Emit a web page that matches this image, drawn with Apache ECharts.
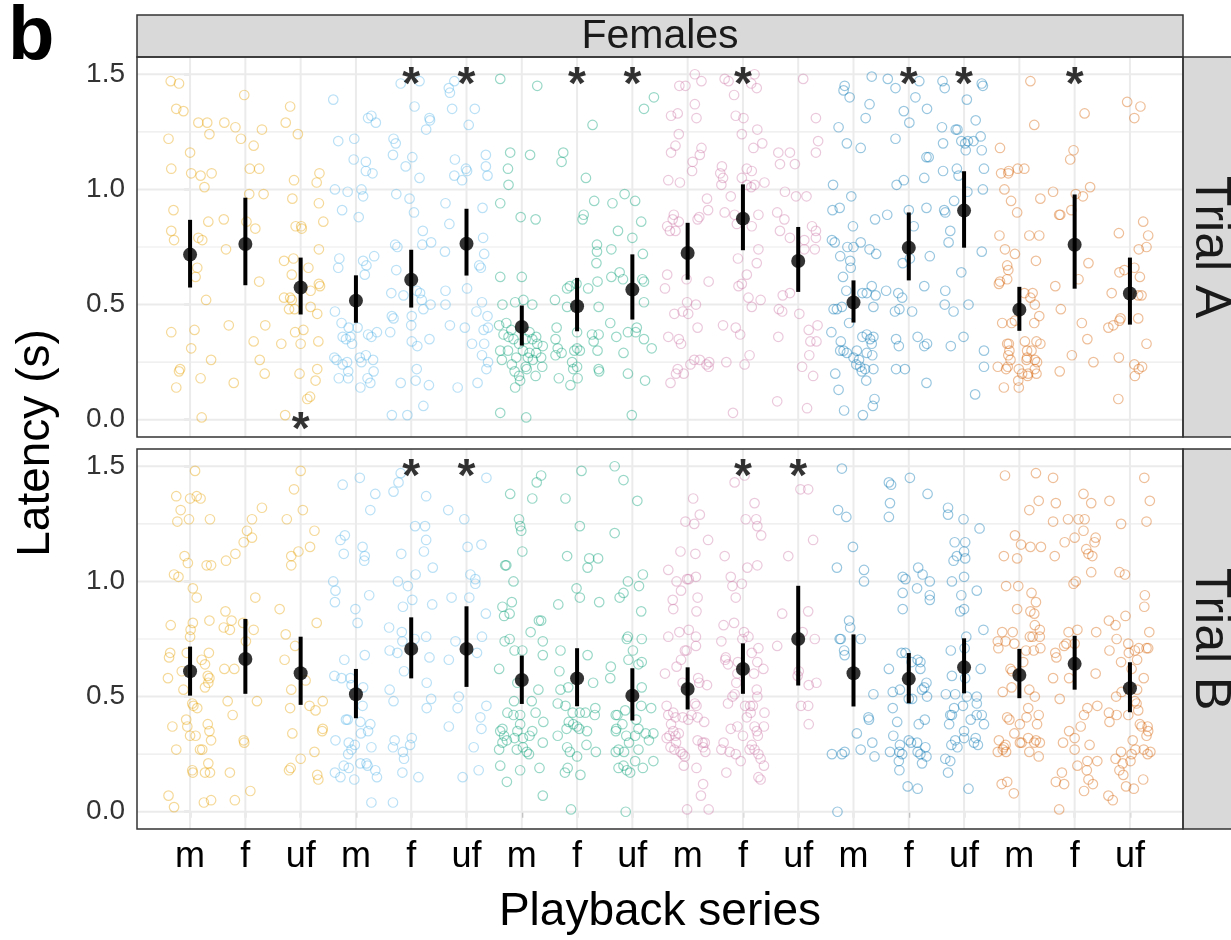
<!DOCTYPE html>
<html><head><meta charset="utf-8">
<script src="https://cdn.jsdelivr.net/npm/echarts@6/dist/echarts.min.js"></script>
<style>html,body{margin:0;padding:0;background:#fff}#c{width:1231px;height:940px}</style>
</head><body><div id="c"></div>
<script>
// ---------- DATA ----------
const categories = ['m','f','uf','m','f','uf','m','f','uf','m','f','uf','m','f','uf','m','f','uf'];
const groupColors = ['#E69F00','#56B4E9','#009E73','#CC79A7','#0072B2','#D55E00'];
const facetTop = 'Females';
const trialLabels = ['Trial A','Trial B'];
const yTicks = [0, 0.5, 1, 1.5];
const xTitle = 'Playback series';
const yTitle = 'Latency (s)';
const panelTag = 'b';

// jittered observations per category: [jitter offset, latency]
const ptsA = [
 [[-0.35,1.47],[-0.2,1.46],[-0.25,1.35],[-0.12,1.34],[0.15,1.29],[0.31,1.29],[-0.39,1.22],[0.35,1.24],[0,1.16],[-0.34,1.09],[0.02,1.07],[0.19,1.06],[0.39,1.07],[0.26,1.01],[-0.3,0.91],[0.33,0.86],[-0.34,0.82],[-0.29,0.78],[0.15,0.79],[0.22,0.78],[0.13,0.66],[0.1,0.62],[0.29,0.52],[-0.34,0.38],[0.08,0.39],[0.02,0.31],[0.38,0.26],[-0.2,0.21],[-0.18,0.22],[0.19,0.18],[-0.25,0.14],[0.21,0.01]],
 [[-0.02,1.41],[-0.38,1.29],[-0.18,1.27],[0.3,1.26],[-0.08,1.22],[0.15,1.19],[0.08,1.09],[0.25,1.09],[0.07,0.98],[0.33,0.98],[-0.39,0.87],[0.02,0.86],[0.18,0.83],[-0.35,0.74],[0.25,0.6],[-0.3,0.41],[0.36,0.41],[0.15,0.34],[0.26,0.26],[0.35,0.2],[-0.21,0.16]],
 [[-0.19,1.36],[-0.27,1.29],[-0.05,1.24],[-0.12,1.04],[0.34,1.07],[0.29,1.03],[-0.15,0.96],[0.33,0.94],[-0.09,0.84],[0.01,0.84],[0.02,0.83],[0.41,0.86],[0.33,0.74],[-0.3,0.69],[-0.13,0.7],[0.14,0.66],[-0.16,0.63],[0.33,0.59],[0.35,0.58],[0.18,0.56],[-0.3,0.53],[-0.19,0.53],[-0.16,0.52],[-0.21,0.48],[-0.11,0.48],[0.18,0.49],[0.3,0.46],[-0.1,0.38],[0.05,0.39],[-0.35,0.33],[0,0.33],[0.32,0.34],[0.3,0.22],[-0.02,0.2],[0.27,0.17],[0.17,0.1],[0.12,0.09],[-0.28,0.02]],
 [[-0.41,1.39],[0.22,1.31],[0.28,1.32],[0.36,1.29],[-0.32,1.21],[-0.03,1.22],[-0.04,1.13],[0.18,1.12],[0.18,1.08],[0.3,1.07],[-0.38,1.0],[-0.15,0.99],[0.1,1.0],[0.13,0.97],[-0.25,0.91],[0.05,0.88],[-0.3,0.7],[-0.32,0.66],[0.13,0.69],[0.33,0.71],[0.19,0.67],[0.16,0.63],[-0.38,0.47],[-0.26,0.42],[-0.13,0.4],[0.03,0.4],[-0.24,0.36],[-0.18,0.35],[-0.1,0.36],[-0.07,0.33],[0.22,0.37],[0.28,0.36],[0.38,0.38],[-0.39,0.27],[-0.35,0.26],[-0.24,0.24],[-0.16,0.25],[-0.14,0.21],[0.07,0.27],[0.18,0.28],[0.1,0.25],[0.31,0.26],[0.32,0.21],[0.21,0.18],[0.26,0.16],[-0.31,0.18],[-0.14,0.18],[0.08,0.14]],
 [[-0.19,1.46],[0.15,1.47],[0.06,1.36],[0.33,1.31],[0.34,1.3],[0.27,1.26],[-0.32,1.22],[-0.28,1.2],[-0.33,1.15],[0.02,1.14],[-0.1,1.1],[0.15,1.05],[-0.27,0.98],[-0.03,0.96],[0.05,0.9],[0.21,0.82],[-0.29,0.76],[-0.25,0.75],[0.2,0.76],[0.36,0.77],[-0.27,0.65],[-0.36,0.55],[-0.14,0.54],[0.1,0.56],[0.16,0.55],[0.19,0.52],[0.35,0.5],[-0.35,0.45],[-0.32,0.44],[0.01,0.45],[0,0.41],[0.22,0.48],[-0.38,0.38],[0.33,0.35],[0.01,0.34],[0.11,0.32],[0.1,0.22],[-0.19,0.16],[0.08,0.17],[0.32,0.15],[-0.35,0.02],[-0.07,0.02],[0.22,0.06]],
 [[-0.32,1.44],[-0.3,1.42],[-0.22,1.47],[-0.26,1.35],[0.15,1.35],[0.04,1.28],[-0.21,1.13],[-0.01,1.09],[0.01,1.08],[-0.22,1.06],[-0.08,1.04],[0.35,1.15],[0.35,1.1],[0.38,1.06],[-0.38,0.94],[-0.31,0.85],[0.29,0.92],[0.3,0.79],[-0.39,0.73],[0.23,0.67],[0.26,0.66],[0.32,0.72],[0.01,0.57],[-0.38,0.56],[-0.38,0.5],[0.28,0.51],[-0.3,0.41],[-0.03,0.4],[0.18,0.47],[0.38,0.45],[0.31,0.39],[0.39,0.4],[0.1,0.33],[0.32,0.33],[0.28,0.28],[0.39,0.25],[0.36,0.22],[-0.16,0.14],[0.2,0.16]],
 [[-0.39,1.48],[0.28,1.45],[-0.21,1.16],[0.15,1.15],[-0.25,1.09],[-0.24,1.02],[-0.39,0.94],[-0.02,0.88],[0.25,0.87],[-0.39,0.62],[0,0.62],[-0.35,0.5],[-0.12,0.51],[0.03,0.52],[0.19,0.5],[-0.41,0.41],[-0.28,0.42],[-0.33,0.37],[-0.24,0.36],[-0.19,0.39],[-0.15,0.35],[-0.05,0.33],[0.07,0.35],[0.14,0.38],[0.19,0.35],[0.26,0.36],[0.28,0.33],[-0.39,0.3],[-0.36,0.26],[-0.25,0.3],[-0.18,0.24],[-0.1,0.27],[0.02,0.3],[0.11,0.27],[0.14,0.29],[0.2,0.26],[0.26,0.29],[0.35,0.27],[0.38,0.32],[0.37,0.23],[-0.13,0.21],[-0.05,0.19],[-0.03,0.17],[-0.12,0.14],[0.07,0.23],[0.09,0.22],[0.25,0.19],[-0.39,0.03],[0.08,0.01]],
 [[0.28,1.28],[-0.25,1.16],[-0.28,1.12],[0.16,1.05],[0.31,0.95],[0.12,0.89],[0.1,0.87],[0.36,0.76],[0.36,0.73],[0.35,0.68],[-0.18,0.57],[-0.13,0.58],[-0.01,0.59],[0.2,0.57],[0.37,0.6],[-0.4,0.52],[-0.18,0.49],[0.39,0.49],[-0.37,0.4],[-0.39,0.35],[0,0.38],[0.27,0.37],[0.39,0.37],[0.3,0.34],[-0.35,0.31],[-0.28,0.29],[-0.39,0.28],[-0.05,0.3],[0,0.31],[0.05,0.3],[0.37,0.3],[-0.09,0.25],[0,0.23],[-0.07,0.22],[0.39,0.22],[0.4,0.21],[-0.33,0.18],[0.01,0.18],[-0.12,0.15]],
 [[0.39,1.4],[0.21,1.35],[-0.14,0.98],[0.05,0.95],[-0.36,0.94],[0.16,0.86],[-0.26,0.82],[0,0.79],[-0.38,0.74],[0.19,0.72],[-0.38,0.62],[-0.23,0.64],[-0.17,0.61],[0.18,0.61],[0.21,0.6],[0.21,0.51],[-0.4,0.42],[-0.29,0.36],[-0.08,0.38],[0.06,0.38],[0.08,0.4],[0.21,0.35],[0.35,0.31],[-0.16,0.29],[-0.08,0.2],[0.23,0.17],[-0.01,0.02]],
 [[0.13,1.5],[0.25,1.47],[-0.15,1.45],[-0.04,1.45],[0.13,1.37],[-0.3,1.32],[-0.18,1.33],[0.16,1.31],[-0.16,1.24],[-0.3,1.16],[-0.22,1.19],[0.25,1.18],[0.22,1.15],[0.09,1.12],[0.08,1.08],[-0.35,1.04],[-0.14,1.03],[0.35,0.96],[0.37,0.91],[-0.37,0.84],[-0.32,0.82],[-0.27,0.87],[-0.25,0.89],[-0.16,0.86],[-0.22,0.82],[0.18,0.87],[0.21,0.88],[-0.37,0.63],[-0.41,0.57],[-0.02,0.61],[0.38,0.6],[-0.24,0.46],[-0.09,0.47],[-0.01,0.51],[0.01,0.46],[0.15,0.5],[-0.35,0.36],[-0.16,0.35],[-0.12,0.33],[0.18,0.4],[-0.18,0.22],[-0.21,0.2],[-0.31,0.16],[-0.07,0.2],[0.05,0.24],[0.12,0.26],[0.22,0.26],[0.34,0.24],[0.39,0.25],[0.38,0.23]],
 [[-0.33,1.48],[-0.26,1.47],[-0.16,1.41],[0.21,1.5],[0.15,1.46],[0.25,1.44],[-0.13,1.32],[0.01,1.31],[0.26,1.26],[-0.02,1.24],[0.19,1.18],[0.35,1.2],[-0.38,1.1],[-0.41,1.07],[-0.36,1.05],[-0.39,1.02],[-0.22,0.97],[-0.02,1.05],[0.07,1.09],[0.16,1.08],[0.07,1.02],[0.15,1.01],[0.21,1.02],[0.39,1.03],[-0.33,0.9],[-0.15,0.89],[-0.11,0.85],[0.16,0.84],[0.28,0.89],[-0.09,0.7],[0.28,0.74],[0.25,0.68],[0.07,0.63],[-0.08,0.58],[-0.02,0.59],[0.1,0.53],[0.16,0.49],[0.32,0.52],[-0.36,0.41],[-0.13,0.4],[-0.05,0.37],[-0.3,0.25],[0.03,0.24],[0.12,0.28],[-0.18,0.03]],
 [[0.09,1.48],[0.32,1.31],[0.36,1.21],[0.32,1.16],[-0.36,1.16],[-0.15,1.16],[-0.33,1.11],[-0.06,1.11],[-0.24,0.99],[-0.04,0.97],[0.15,0.97],[-0.38,0.9],[-0.25,0.87],[-0.33,0.82],[-0.15,0.79],[0.25,0.84],[0.32,0.82],[0.11,0.78],[0.32,0.79],[0.11,0.74],[0.3,0.74],[-0.28,0.54],[-0.15,0.55],[-0.35,0.48],[-0.29,0.47],[0.02,0.46],[0.35,0.41],[0.19,0.39],[-0.36,0.36],[0.22,0.34],[0.33,0.34],[0.07,0.23],[0.2,0.28],[0.27,0.19],[-0.38,0.08],[0.16,0.05]],
 [[0.33,1.49],[-0.16,1.45],[-0.18,1.43],[-0.07,1.4],[0.29,1.37],[0.22,1.31],[-0.27,1.27],[-0.12,1.2],[0.13,1.18],[-0.37,1.02],[-0.04,0.97],[-0.38,0.91],[-0.25,0.92],[0.39,0.87],[-0.01,0.84],[-0.39,0.78],[-0.34,0.77],[-0.24,0.71],[-0.11,0.75],[0,0.75],[0.13,0.77],[0.29,0.74],[0.41,0.72],[-0.06,0.69],[-0.05,0.66],[-0.19,0.62],[-0.13,0.56],[0.16,0.55],[0.24,0.55],[0.33,0.58],[0.4,0.54],[-0.36,0.48],[-0.3,0.48],[-0.21,0.49],[0.36,0.49],[-0.08,0.42],[-0.4,0.38],[-0.23,0.34],[-0.24,0.3],[-0.18,0.3],[-0.12,0.29],[0.06,0.3],[0.1,0.26],[0.16,0.36],[0.24,0.37],[0.3,0.35],[0.33,0.33],[0.36,0.36],[0.24,0.29],[0.34,0.28],[0,0.27],[0.05,0.24],[0.12,0.23],[0.15,0.21],[0.21,0.22],[0.36,0.22],[-0.33,0.2],[0.23,0.17],[-0.27,0.13],[0.38,0.09],[0.35,0.06],[-0.17,0.04],[0.17,0.02]],
 [[-0.38,1.48],[-0.24,1.44],[0.19,1.47],[0.12,1.4],[0.33,1.35],[-0.09,1.34],[0.01,1.29],[-0.24,1.22],[0.32,1.14],[0.36,1.14],[0.28,1.05],[-0.22,1.02],[-0.09,1.04],[-0.39,0.89],[0,0.91],[0.09,0.84],[0.32,0.92],[-0.11,0.68],[0.02,0.7],[0.38,0.71],[-0.41,0.56],[-0.19,0.55],[-0.12,0.53],[0.28,0.58],[-0.25,0.47],[-0.17,0.48],[0.06,0.47],[-0.23,0.35],[-0.18,0.32],[0.16,0.36],[0.28,0.32],[0.33,0.33],[-0.23,0.22],[-0.07,0.22],[0.32,0.16]],
 [[-0.39,1.47],[-0.35,1.44],[0.32,1.46],[0.34,1.45],[0.05,1.39],[0.21,1.3],[-0.4,1.27],[-0.15,1.26],[-0.12,1.26],[-0.05,1.21],[0.02,1.2],[0.07,1.21],[0.17,1.21],[0.3,1.23],[0.32,1.17],[-0.38,1.2],[0.03,1.17],[-0.38,1.08],[-0.13,1.09],[-0.1,1.06],[0.36,1.09],[-0.36,0.91],[-0.34,0.9],[-0.18,0.95],[0.06,0.99],[0.34,1.0],[-0.25,0.82],[-0.28,0.77],[-0.05,0.64],[0.32,0.73],[-0.34,0.56],[-0.35,0.5],[-0.19,0.47],[0.08,0.5],[-0.24,0.32],[-0.01,0.36],[0.36,0.3],[0.36,0.23],[0.2,0.11]],
 [[0.2,1.47],[0.27,1.28],[-0.35,1.18],[-0.33,1.07],[-0.2,1.07],[-0.19,1.08],[-0.03,1.09],[0.09,1.09],[-0.27,1.0],[-0.15,0.95],[-0.04,0.9],[0.38,0.96],[-0.36,0.8],[0.18,0.8],[0.36,0.8],[-0.26,0.74],[-0.08,0.72],[0.3,0.69],[-0.22,0.67],[-0.2,0.65],[-0.37,0.59],[-0.35,0.6],[-0.22,0.61],[0.09,0.55],[0.24,0.55],[0.2,0.53],[0.28,0.5],[0.36,0.45],[-0.31,0.42],[-0.14,0.42],[-0.08,0.43],[0.27,0.42],[-0.22,0.33],[-0.19,0.33],[-0.18,0.3],[-0.2,0.28],[-0.16,0.26],[-0.21,0.23],[-0.24,0.22],[-0.39,0.23],[-0.01,0.22],[0.1,0.34],[0.14,0.3],[0.14,0.27],[0.22,0.3],[0.13,0.26],[0.28,0.26],[0.32,0.25],[0.31,0.34],[0.38,0.33],[0.05,0.2],[0.15,0.19],[0.16,0.2],[0.28,0.22],[0.31,0.2],[-0.02,0.17],[-0.01,0.14],[-0.28,0.14]],
 [[0.18,1.33],[-0.02,1.17],[-0.08,1.13],[-0.39,0.99],[0.02,0.98],[0.15,0.97],[0.28,1.01],[-0.28,0.89],[-0.26,0.89],[-0.06,0.91],[-0.35,0.58],[0.07,0.61],[0.25,0.68],[-0.25,0.48],[0.13,0.42],[0.23,0.35],[-0.05,0.28],[0.34,0.25],[-0.27,0.21]],
 [[-0.05,1.38],[0.19,1.36],[0.08,1.31],[0.24,0.86],[0.33,0.8],[0.3,0.75],[0.16,0.74],[-0.2,0.81],[-0.19,0.64],[-0.1,0.65],[0.08,0.66],[0.18,0.62],[-0.33,0.55],[0.15,0.54],[0.21,0.54],[0.15,0.44],[-0.39,0.4],[-0.3,0.41],[-0.19,0.43],[-0.17,0.44],[0.3,0.33],[-0.2,0.27],[0.08,0.24],[0.16,0.22],[0.22,0.23],[0.09,0.19],[-0.21,0.09]]
];
const ptsB = [
 [[0.09,1.48],[-0.25,1.37],[0,1.36],[0.12,1.37],[0.19,1.36],[-0.17,1.31],[-0.23,1.26],[-0.02,1.27],[0.36,1.27],[-0.1,1.11],[-0.04,1.08],[0.3,1.07],[0.38,1.07],[-0.29,1.03],[-0.21,1.02],[0.05,0.97],[0.12,0.93],[-0.35,0.81],[0.05,0.82],[0.01,0.79],[0,0.76],[0.35,0.83],[-0.36,0.69],[-0.38,0.67],[-0.06,0.69],[0.34,0.69],[0.21,0.66],[0.27,0.64],[-0.15,0.61],[-0.4,0.58],[0.32,0.59],[0.35,0.58],[0.33,0.56],[0.27,0.54],[-0.12,0.53],[0.04,0.47],[0.06,0.46],[0.13,0.45],[-0.07,0.4],[-0.32,0.37],[-0.05,0.37],[0,0.33],[0.1,0.33],[0.32,0.38],[0.35,0.35],[0.38,0.31],[-0.25,0.27],[0.18,0.27],[0.22,0.27],[0.33,0.21],[0.04,0.18],[0.05,0.17],[0.27,0.17],[0.36,0.17],[-0.39,0.07],[-0.29,0.02],[0.25,0.04],[0.38,0.05]],
 [[-0.35,1.09],[-0.18,1.12],[-0.36,0.87],[-0.39,0.8],[-0.28,0.79],[-0.25,0.83],[-0.04,0.82],[0.18,0.93],[0.15,0.79],[0.01,0.74],[0.12,1.27],[0.3,1.32],[0.03,1.22],[0.12,1.19],[-0.03,1.17],[-0.38,0.62],[-0.2,0.62],[-0.32,0.48],[-0.23,0.42],[0.21,0.48],[-0.03,0.31],[-0.02,0.3],[-0.28,0.17],[-0.19,0.05],[0.09,0.09]],
 [[0,1.48],[-0.12,1.4],[0.04,1.31],[-0.25,1.27],[0.25,1.22],[0.17,1.15],[-0.04,1.13],[-0.17,1.11],[-0.17,1.07],[-0.38,0.88],[0.29,0.82],[-0.27,0.77],[-0.1,0.72],[-0.29,0.66],[0.09,0.57],[-0.17,0.53],[0.16,0.46],[0.27,0.44],[0.4,0.48],[-0.19,0.45],[0.4,0.36],[0.39,0.35],[-0.15,0.34],[0.25,0.26],[0,0.23],[-0.18,0.19],[-0.21,0.18],[0.3,0.16],[0.32,0.14]],
 [[-0.24,1.42],[0.07,1.45],[0.35,1.38],[0.26,1.31],[-0.28,1.18],[-0.2,1.2],[-0.22,1.12],[0.12,1.15],[0.16,1.11],[0.15,1.09],[-0.41,1.0],[-0.37,0.96],[-0.38,0.91],[0.24,0.94],[-0.01,0.88],[0.03,0.82],[-0.21,0.66],[0.16,0.68],[-0.39,0.59],[-0.26,0.58],[-0.1,0.58],[-0.08,0.55],[0.13,0.54],[0.12,0.46],[-0.18,0.4],[-0.15,0.4],[0.08,0.39],[0.26,0.38],[0.22,0.35],[0.09,0.34],[-0.37,0.31],[-0.13,0.3],[-0.02,0.29],[-0.08,0.27],[0.28,0.28],[-0.14,0.25],[-0.22,0.2],[-0.13,0.19],[0.08,0.21],[0.19,0.21],[0.21,0.2],[0.35,0.18],[-0.38,0.17],[-0.28,0.15],[-0.03,0.14],[0.38,0.15],[0.28,0.04]],
 [[-0.19,1.47],[-0.23,1.43],[-0.32,1.39],[0.27,1.37],[0.07,1.24],[0.25,1.24],[0.27,1.18],[-0.18,1.12],[0.23,1.13],[0.39,1.06],[0.08,1.03],[-0.24,1.0],[-0.06,0.98],[0.02,0.92],[-0.15,0.89],[0.38,0.9],[-0.4,0.8],[-0.17,0.78],[0.06,0.75],[0.27,0.76],[-0.16,0.74],[-0.39,0.7],[-0.25,0.69],[0.33,0.67],[-0.13,0.61],[0.28,0.56],[-0.39,0.53],[-0.32,0.48],[0.36,0.49],[0.28,0.45],[-0.3,0.31],[-0.33,0.28],[-0.15,0.26],[-0.13,0.23],[0.01,0.32],[-0.02,0.29],[-0.16,0.17],[0.13,0.15],[-0.33,0.04]],
 [[0.36,1.45],[-0.33,1.31],[-0.04,1.27],[0.02,1.15],[0.27,1.16],[0.07,1.03],[0.16,1.01],[0.16,0.99],[-0.27,0.93],[0.05,0.93],[0.35,0.86],[-0.2,0.74],[0.19,0.69],[0.28,0.76],[-0.32,0.66],[-0.14,0.5],[-0.16,0.45],[0.36,0.46],[0.25,0.41],[0.27,0.36],[-0.32,0.37],[0.13,0.28],[-0.07,0.15],[0.22,0.18]],
 [[0.35,1.46],[0.27,1.43],[-0.21,1.38],[0.19,1.36],[-0.05,1.27],[-0.03,1.24],[-0.01,1.22],[0.01,1.13],[-0.3,1.07],[-0.28,1.07],[-0.15,1.0],[-0.35,0.89],[-0.32,0.85],[-0.22,0.86],[-0.18,0.91],[0.16,0.78],[0.31,0.83],[0.35,0.83],[-0.31,0.74],[-0.22,0.75],[-0.13,0.7],[0.01,0.7],[0.38,0.74],[0.38,0.68],[-0.41,0.62],[-0.08,0.56],[0.3,0.53],[-0.14,0.48],[0.18,0.48],[-0.26,0.43],[-0.15,0.42],[-0.03,0.42],[0.25,0.43],[-0.03,0.38],[0.39,0.39],[-0.35,0.36],[-0.39,0.35],[-0.32,0.33],[-0.27,0.31],[-0.35,0.3],[-0.41,0.27],[-0.08,0.35],[-0.13,0.32],[0.02,0.32],[0.14,0.33],[-0.09,0.27],[0.02,0.28],[0.09,0.26],[0.13,0.25],[0.19,0.35],[0.38,0.3],[-0.39,0.2],[-0.27,0.13],[-0.03,0.18],[0.32,0.19],[0.38,0.07]],
 [[0.08,1.48],[-0.21,1.36],[0.05,1.24],[-0.18,1.11],[0.22,1.1],[0.38,1.1],[0.19,1.06],[-0.01,0.97],[0.05,0.93],[-0.34,0.9],[0.4,0.91],[-0.3,0.7],[0.19,0.68],[-0.32,0.61],[-0.3,0.53],[-0.16,0.54],[0.29,0.56],[-0.35,0.47],[-0.21,0.46],[-0.08,0.43],[0.05,0.43],[0.15,0.43],[0.33,0.45],[0.32,0.42],[-0.15,0.39],[-0.07,0.38],[0,0.37],[0.04,0.36],[-0.35,0.33],[-0.19,0.36],[0.18,0.35],[-0.18,0.28],[-0.13,0.26],[0,0.24],[0.17,0.29],[0.34,0.26],[-0.17,0.19],[-0.22,0.17],[0.06,0.16],[-0.11,0.01]],
 [[-0.32,1.5],[-0.16,1.44],[0.09,1.35],[-0.32,1.21],[-0.08,1.0],[0.12,0.98],[0.19,1.03],[-0.16,0.95],[-0.23,0.93],[0.16,0.87],[-0.1,0.75],[-0.08,0.76],[0.17,0.75],[0.01,0.7],[-0.07,0.66],[0.11,0.64],[0.17,0.65],[-0.39,0.63],[-0.4,0.58],[0.17,0.54],[0.16,0.46],[0.34,0.45],[-0.13,0.44],[-0.3,0.42],[-0.27,0.42],[-0.18,0.38],[-0.29,0.36],[-0.3,0.35],[0.07,0.4],[0.11,0.36],[-0.11,0.33],[0.05,0.33],[0.24,0.34],[0.3,0.31],[0.38,0.34],[-0.06,0.3],[-0.15,0.26],[-0.3,0.26],[-0.25,0.27],[0.11,0.27],[0.38,0.22],[-0.25,0.19],[-0.16,0.2],[-0.1,0.18],[-0.04,0.17],[0.05,0.22],[0.19,0.19],[-0.12,0.0]],
 [[0.1,1.36],[-0.04,1.26],[0.12,1.25],[0.22,1.29],[0.37,1.18],[-0.13,1.13],[0.14,1.12],[-0.35,1.05],[-0.2,1.0],[-0.12,0.96],[-0.01,1.01],[0.02,1.01],[0.15,1.02],[-0.27,0.92],[-0.26,0.88],[0.18,0.93],[0.16,0.87],[-0.35,0.76],[-0.15,0.78],[0.02,0.79],[0.15,0.76],[0.15,0.72],[-0.02,0.7],[-0.05,0.7],[-0.12,0.66],[-0.2,0.63],[-0.41,0.6],[-0.09,0.56],[0.19,0.58],[0.21,0.56],[0.35,0.55],[0.13,0.47],[0.16,0.46],[-0.38,0.46],[-0.35,0.42],[-0.26,0.43],[-0.3,0.38],[-0.22,0.41],[-0.09,0.41],[0.01,0.4],[0.07,0.42],[0.18,0.41],[0.3,0.39],[-0.26,0.35],[-0.22,0.33],[-0.33,0.33],[-0.38,0.32],[-0.16,0.34],[-0.21,0.3],[-0.31,0.28],[-0.24,0.27],[-0.13,0.26],[-0.09,0.25],[-0.05,0.24],[-0.07,0.2],[0.18,0.31],[0.27,0.3],[0.31,0.3],[0.28,0.28],[0.32,0.26],[0.16,0.19],[0.28,0.12],[0.24,0.07],[-0.01,0.01],[0.38,0.01]],
 [[-0.15,1.43],[0.03,1.46],[0.21,1.34],[0.05,1.27],[0.24,1.27],[0.26,1.24],[0.33,1.2],[-0.33,1.11],[0.08,1.06],[0.26,1.07],[-0.22,1.02],[-0.19,0.98],[-0.02,0.99],[-0.13,0.93],[-0.35,0.81],[-0.16,0.82],[0.02,0.78],[0.1,0.76],[-0.01,0.75],[-0.39,0.74],[0.28,0.71],[0.16,0.69],[-0.31,0.67],[-0.27,0.64],[-0.32,0.66],[-0.09,0.65],[0.26,0.65],[0.37,0.62],[-0.1,0.6],[0.2,0.6],[-0.12,0.56],[-0.15,0.51],[-0.19,0.5],[0.25,0.53],[0.26,0.5],[-0.27,0.47],[0.04,0.46],[0.13,0.46],[0.18,0.46],[0.14,0.43],[0.39,0.43],[0.07,0.41],[-0.1,0.37],[-0.22,0.36],[0,0.33],[0.21,0.37],[0.25,0.35],[0.27,0.33],[0.38,0.37],[-0.35,0.3],[-0.39,0.27],[-0.24,0.26],[-0.13,0.25],[-0.04,0.22],[0.12,0.27],[0.16,0.29],[0.21,0.27],[0.28,0.25],[0.32,0.23],[0.38,0.2],[-0.3,0.17],[0.28,0.15],[0.32,0.14]],
 [[0.04,1.4],[0.18,1.4],[0.27,1.18],[-0.18,1.11],[-0.29,0.86],[0.18,0.87],[0.08,0.78],[0.3,0.75],[-0.38,0.72],[0.01,0.61],[-0.01,0.59],[0.19,0.55],[0.33,0.56],[0.05,0.46],[0.18,0.46],[0.19,0.38]],
 [[-0.21,1.49],[-0.28,1.31],[-0.13,1.28],[-0.01,1.15],[-0.3,1.06],[0.19,1.05],[0.19,1.0],[-0.08,0.83],[-0.06,0.8],[-0.25,0.75],[-0.23,0.75],[0.13,0.75],[-0.17,0.7],[-0.16,0.68],[0.36,0.51],[0.27,0.41],[0.28,0.4],[0.06,0.34],[0.34,0.3],[-0.39,0.25],[-0.21,0.25],[-0.16,0.26],[0.13,0.27],[0.38,0.24],[-0.29,0.0]],
 [[-0.36,1.43],[-0.32,1.42],[0.02,1.45],[0.34,1.38],[-0.34,1.34],[-0.36,1.28],[0.17,1.06],[0.25,1.03],[0.38,1.0],[-0.11,1.02],[-0.06,1.01],[0.15,0.97],[-0.11,0.95],[0.38,0.94],[0.38,0.92],[-0.11,0.88],[-0.13,0.69],[-0.06,0.69],[0.05,0.65],[0.16,0.66],[0.21,0.65],[0.21,0.62],[-0.36,0.62],[-0.29,0.52],[-0.16,0.53],[0,0.49],[0.06,0.49],[0.24,0.53],[0.28,0.54],[0.32,0.56],[0.33,0.5],[-0.29,0.45],[-0.21,0.39],[0.18,0.38],[0.29,0.4],[-0.28,0.33],[-0.16,0.29],[-0.17,0.26],[0,0.31],[0.04,0.3],[0.15,0.3],[0.3,0.28],[-0.34,0.26],[-0.12,0.25],[-0.18,0.22],[0.16,0.26],[0.21,0.25],[0.32,0.24],[0.24,0.21],[-0.17,0.18],[-0.02,0.11],[0.16,0.1]],
 [[-0.29,1.32],[-0.29,1.29],[-0.01,1.27],[0.28,1.23],[-0.17,1.17],[0.02,1.17],[0,1.13],[0.02,1.1],[-0.13,1.11],[-0.19,1.09],[0,1.02],[-0.22,1.0],[0.23,0.96],[-0.05,0.94],[-0.07,0.87],[0,0.88],[0.35,0.79],[0.04,0.76],[0.01,0.71],[-0.24,0.7],[0.3,0.62],[-0.22,0.59],[0.02,0.58],[-0.33,0.51],[-0.16,0.51],[0.05,0.5],[0.23,0.5],[0.23,0.47],[-0.18,0.45],[-0.02,0.46],[-0.25,0.42],[-0.22,0.42],[-0.27,0.38],[0.12,0.4],[0.23,0.42],[0.32,0.42],[0.36,0.38],[0,0.35],[0,0.32],[0.21,0.32],[0.25,0.29],[-0.23,0.29],[-0.16,0.31],[-0.12,0.28],[0.18,0.3],[-0.34,0.23],[-0.25,0.22],[-0.29,0.17],[0.08,0.1]],
 [[-0.26,1.46],[0.3,1.47],[0.35,1.35],[0.18,1.31],[-0.08,1.2],[0.03,1.16],[0.2,1.15],[0.39,1.15],[-0.28,1.11],[-0.04,1.1],[-0.24,0.98],[-0.02,0.98],[0.22,0.95],[0.3,0.91],[0.27,0.86],[0.2,0.87],[-0.04,0.88],[0.28,0.81],[0.37,0.79],[-0.12,0.78],[-0.31,0.78],[-0.39,0.74],[-0.38,0.71],[-0.25,0.74],[0.19,0.76],[0.24,0.76],[0.37,0.76],[0.26,0.7],[0.12,0.7],[0.38,0.71],[-0.09,0.73],[0.07,0.65],[-0.16,0.62],[-0.13,0.61],[-0.3,0.52],[-0.14,0.54],[0.18,0.53],[0.28,0.5],[0.16,0.45],[-0.22,0.41],[-0.18,0.4],[0.01,0.38],[0.13,0.41],[0.32,0.38],[0.35,0.42],[-0.37,0.31],[-0.39,0.26],[-0.3,0.27],[-0.25,0.29],[-0.24,0.26],[-0.28,0.28],[-0.09,0.34],[0.01,0.3],[0.04,0.3],[0.16,0.32],[0.27,0.3],[0.3,0.31],[0.37,0.3],[0.18,0.26],[0.35,0.24],[-0.32,0.12],[-0.22,0.13],[-0.1,0.08]],
 [[-0.39,1.45],[-0.34,1.34],[0.16,1.38],[0.3,1.34],[-0.39,1.26],[-0.12,1.27],[0.07,1.27],[0.18,1.27],[0.16,1.22],[0.38,1.19],[0.36,1.17],[-0.18,1.17],[0,1.19],[0.21,1.14],[0.25,1.12],[0.32,1.11],[-0.36,1.11],[0.3,1.04],[-0.02,0.99],[0.02,1.0],[0.05,0.79],[-0.11,0.78],[0.39,0.78],[-0.35,0.69],[-0.33,0.67],[-0.19,0.72],[-0.15,0.73],[0,0.73],[-0.39,0.58],[-0.1,0.58],[0.38,0.6],[-0.27,0.49],[0.17,0.42],[0.23,0.45],[0.41,0.46],[0.11,0.37],[-0.1,0.35],[0,0.32],[-0.21,0.3],[0,0.27],[0.27,0.29],[0.05,0.2],[0.23,0.22],[0.41,0.22],[0.22,0.18],[0.25,0.14],[-0.23,0.17],[-0.34,0.13],[-0.19,0.12],[0.17,0.09],[0.33,0.12],[-0.28,0.01]],
 [[0.26,1.45],[0.36,1.35],[0.3,1.26],[-0.16,1.25],[-0.37,1.35],[-0.19,1.04],[-0.09,1.03],[0.27,0.94],[0.26,0.89],[-0.38,0.83],[-0.26,0.81],[-0.08,0.85],[-0.24,0.75],[-0.37,0.7],[-0.03,0.73],[-0.02,0.69],[0.09,0.7],[0.16,0.71],[0.3,0.71],[0.33,0.71],[0.35,0.78],[0.13,0.66],[0.25,0.58],[-0.16,0.65],[0.03,0.62],[-0.25,0.5],[-0.15,0.52],[0.09,0.48],[0.12,0.47],[0.13,0.53],[-0.38,0.43],[-0.24,0.42],[-0.37,0.39],[-0.03,0.42],[0.15,0.44],[0.18,0.38],[0.21,0.37],[0.32,0.37],[0.33,0.35],[0.3,0.33],[0.05,0.31],[-0.26,0.23],[-0.16,0.26],[-0.13,0.21],[0.03,0.25],[0.1,0.27],[0.25,0.27],[0.32,0.25],[0.37,0.26],[-0.19,0.18],[-0.12,0.16],[0.01,0.22],[0.24,0.14],[-0.07,0.11],[0.07,0.1],[-0.39,0.07],[-0.31,0.05]]
];

// means and error-bar limits per category
const meanA = [0.717,0.763,0.574, 0.517,0.608,0.764, 0.403,0.493,0.565, 0.724,0.873,0.689, 0.509,0.747,0.908, 0.478,0.760,0.548];
const lowA  = [0.574,0.584,0.457, 0.421,0.487,0.626, 0.322,0.384,0.435, 0.608,0.736,0.555, 0.422,0.605,0.747, 0.386,0.569,0.413];
const highA = [0.868,0.964,0.704, 0.627,0.738,0.916, 0.496,0.616,0.718, 0.855,1.022,0.837, 0.605,0.900,1.079, 0.577,0.978,0.704];
const meanB = [0.610,0.663,0.601, 0.510,0.707,0.707, 0.572,0.579,0.504, 0.533,0.620,0.750, 0.601,0.577,0.627, 0.594,0.642,0.536];
const lowB  = [0.504,0.512,0.464, 0.406,0.579,0.542, 0.468,0.458,0.396, 0.444,0.512,0.548, 0.457,0.471,0.514, 0.493,0.530,0.432];
const highB = [0.717,0.837,0.760, 0.620,0.844,0.892, 0.678,0.710,0.623, 0.627,0.731,0.981, 0.770,0.689,0.753, 0.707,0.764,0.649];

// significance markers: [category index, latency]
const starsA = [[4,1.5],[5,1.5],[7,1.5],[8,1.5],[10,1.5],[13,1.5],[14,1.5],[16,1.5],[2,0]];
const starsB = [[4,1.5],[5,1.5],[10,1.5],[11,1.5]];

// ---------- CHART ----------
const FONT = '"Liberation Sans", Arial, Helvetica, sans-serif';
const X_MIN = -0.96, X_MAX = 17.96, Y_MIN = -0.075, Y_MAX = 1.575;
const PANEL = {left: 137, width: 1046, height: 380, tops: [57, 449]};

function rgba(hex, a) {
  const n = parseInt(hex.slice(1), 16);
  return 'rgba(' + ((n >> 16) & 255) + ',' + ((n >> 8) & 255) + ',' + (n & 255) + ',' + a + ')';
}

const chart = echarts.init(document.getElementById('c'), null, {renderer: 'canvas'});

const grid = [], xAxis = [], yAxis = [], series = [];
const catIdx = categories.map((_, i) => i);
const panels = [
  {pts: ptsA, mean: meanA, low: lowA, high: highA, stars: starsA},
  {pts: ptsB, mean: meanB, low: lowB, high: highB, stars: starsB}
];

panels.forEach((P, t) => {
  grid.push({left: PANEL.left, top: PANEL.tops[t], width: PANEL.width, height: PANEL.height,
             show: true, backgroundColor: '#fff', borderWidth: 0});
  xAxis.push({
    type: 'value', gridIndex: t, min: X_MIN, max: X_MAX,
    splitLine: {show: false}, axisLine: {show: false},
    axisTick: {show: t === 1, customValues: catIdx, length: 6, lineStyle: {color: '#333', width: 1.2}},
    axisLabel: {show: t === 1, customValues: catIdx, formatter: v => categories[Math.round(v)] || '',
                fontSize: 36, color: '#000', margin: 10, fontFamily: FONT}
  });
  yAxis.push({
    type: 'value', gridIndex: t, min: Y_MIN, max: Y_MAX,
    splitLine: {show: false}, axisLine: {show: false},
    axisTick: {show: true, customValues: yTicks, length: 6, lineStyle: {color: '#333', width: 1.2}},
    axisLabel: {show: true, customValues: yTicks, formatter: v => v.toFixed(1),
                fontSize: 28, color: '#333', margin: 12, fontFamily: FONT}
  });

  // grid lines (drawn through the axis scales)
  const gl = [];
  [0, 0.5, 1, 1.5].forEach(v => gl.push([X_MIN, v, X_MAX, v, 2]));
  [0.25, 0.75, 1.25].forEach(v => gl.push([X_MIN, v, X_MAX, v, 1.2]));
  catIdx.forEach(c => gl.push([c, Y_MIN, c, Y_MAX, 2]));
  series.push({
    type: 'custom', xAxisIndex: t, yAxisIndex: t, z: 1, silent: true,
    data: gl, encode: {x: [0, 2], y: [1, 3]},
    renderItem: (params, api) => {
      const a = api.coord([api.value(0), api.value(1)]);
      const b = api.coord([api.value(2), api.value(3)]);
      return {type: 'line', shape: {x1: a[0], y1: a[1], x2: b[0], y2: b[1]},
              style: {stroke: '#EBEBEB', lineWidth: api.value(4)}};
    }
  });

  // jittered raw points, one series per colour group
  groupColors.forEach((col, g) => {
    const data = [];
    for (let k = 0; k < 3; k++) {
      const c = g * 3 + k;
      P.pts[c].forEach(p => data.push([c + p[0], p[1]]));
    }
    series.push({
      type: 'scatter', xAxisIndex: t, yAxisIndex: t, z: 2, silent: true,
      symbol: 'circle', symbolSize: 9.5, data,
      itemStyle: {color: 'rgba(0,0,0,0)', borderColor: rgba(col, 0.5), borderWidth: 1.2}
    });
  });

  // error bars
  series.push({
    type: 'custom', xAxisIndex: t, yAxisIndex: t, z: 3, silent: true,
    data: P.mean.map((m, i) => [i, P.low[i], P.high[i]]),
    encode: {x: 0, y: [1, 2]},
    renderItem: (params, api) => {
      const a = api.coord([api.value(0), api.value(1)]);
      const b = api.coord([api.value(0), api.value(2)]);
      return {type: 'line', shape: {x1: a[0], y1: a[1], x2: b[0], y2: b[1]},
              style: {stroke: '#000', lineWidth: 4}};
    }
  });

  // means
  series.push({
    type: 'scatter', xAxisIndex: t, yAxisIndex: t, z: 4, silent: true,
    symbol: 'circle', symbolSize: 14, itemStyle: {color: '#000'},
    data: P.mean.map((m, i) => [i, m])
  });

  // asterisks
  series.push({
    type: 'scatter', xAxisIndex: t, yAxisIndex: t, z: 5, silent: true,
    symbol: 'circle', symbolSize: 1, itemStyle: {color: 'rgba(0,0,0,0)'},
    data: P.stars,
    label: {show: true, position: 'inside', formatter: '*', fontSize: 46, fontWeight: 'bold', color: '#000',
            fontFamily: FONT, offset: [0, 12]}
  });
});

const graphic = [
  {type: 'text', left: 8, top: 0, style: {text: panelTag, font: 'bold 76px ' + FONT, fill: '#000'}},
  {type: 'rect', shape: {x: 137, y: 15, width: 1046, height: 42},
   style: {fill: '#D9D9D9', stroke: '#333', lineWidth: 1.5}, z: 10},
  {type: 'text', x: 660, y: 37, z: 11,
   style: {text: facetTop, font: '41px ' + FONT, fill: '#1a1a1a', textAlign: 'center', textVerticalAlign: 'middle'}},
  {type: 'text', x: 36, y: 443, rotation: Math.PI / 2, z: 11,
   style: {text: yTitle, font: '46px ' + FONT, fill: '#000', textAlign: 'center', textVerticalAlign: 'middle'}},
  {type: 'text', x: 660, y: 912, z: 11,
   style: {text: xTitle, font: '46px ' + FONT, fill: '#000', textAlign: 'center', textVerticalAlign: 'middle'}}
];
PANEL.tops.forEach((top, t) => {
  graphic.push({type: 'rect', shape: {x: PANEL.left, y: top, width: PANEL.width, height: PANEL.height},
                style: {fill: 'none', stroke: '#333', lineWidth: 1.5}, z: 20, silent: true});
  graphic.push({type: 'rect', shape: {x: 1183, y: top, width: 60, height: PANEL.height},
                style: {fill: '#D9D9D9', stroke: '#333', lineWidth: 1.5}, z: 10});
  graphic.push({type: 'text', x: 1210, y: top + PANEL.height / 2, rotation: -Math.PI / 2, z: 11,
                style: {text: trialLabels[t], font: '50px ' + FONT, fill: '#1a1a1a', textAlign: 'center', textVerticalAlign: 'middle'}});
});

chart.setOption({animation: false, backgroundColor: '#fff', grid, xAxis, yAxis, series, graphic});
</script>
</body></html>
